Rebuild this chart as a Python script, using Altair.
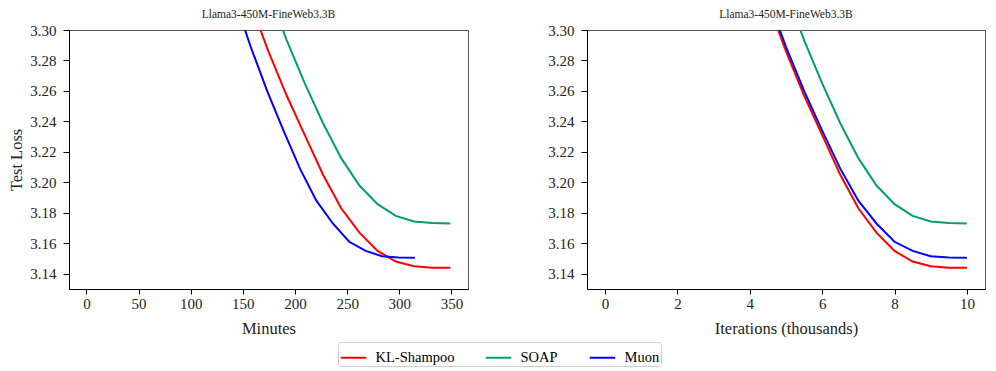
import altair as alt
import pandas as pd

optimizers = ["KL-Shampoo", "SOAP", "Muon"]
colors = ["#ff0000", "#009e73", "#0000ff"]

iters_kl = [4.5, 5.0, 5.5, 6.0, 6.5, 7.0, 7.5, 8.0, 8.5, 9.0, 9.5, 10.0]
minutes_kl = [157.1, 174.5, 192.0, 209.4, 226.9, 244.3, 261.8, 279.2, 296.7, 314.1, 331.6, 349.0]
loss_kl = [3.318, 3.286, 3.257, 3.231, 3.205, 3.183, 3.167, 3.155, 3.148, 3.145, 3.144, 3.144]

iters_soap = [5.0, 5.5, 6.0, 6.5, 7.0, 7.5, 8.0, 8.5, 9.0, 9.5, 10.0]
minutes_soap = [174.5, 192.0, 209.4, 226.9, 244.3, 261.8, 279.2, 296.7, 314.1, 331.6, 349.0]
loss_soap = [3.325, 3.2934, 3.265, 3.2388, 3.2159, 3.1979, 3.1857, 3.178, 3.1743, 3.1733, 3.173]

iters_muon = [4.5, 5.0, 5.5, 6.0, 6.5, 7.0, 7.5, 8.0, 8.5, 9.0, 9.5, 10.0]
minutes_muon = [141.8, 157.5, 173.3, 189.0, 204.8, 220.5, 236.3, 252.0, 267.8, 283.5, 299.3, 315.0]
loss_muon = [3.321, 3.289, 3.260, 3.234, 3.209, 3.188, 3.173, 3.161, 3.155, 3.1515, 3.1506, 3.1505]

y_ticks = [3.14, 3.16, 3.18, 3.20, 3.22, 3.24, 3.26, 3.28, 3.30]
minute_ticks = [0, 50, 100, 150, 200, 250, 300, 350]
iter_ticks = [0, 2, 4, 6, 8, 10]
panel_title = "Llama3-450M-FineWeb3.3B"

rows = []
for name, its, mins, ls in [
    ("KL-Shampoo", iters_kl, minutes_kl, loss_kl),
    ("SOAP", iters_soap, minutes_soap, loss_soap),
    ("Muon", iters_muon, minutes_muon, loss_muon),
]:
    for i, m, l in zip(its, mins, ls):
        rows.append({"optimizer": name, "iters": i, "minutes": m, "loss": l})
df = pd.DataFrame(rows)

FONT = "Liberation Serif"

color = alt.Color(
    "optimizer:N",
    scale=alt.Scale(domain=optimizers, range=colors),
    sort=optimizers,
    legend=alt.Legend(
        title=None,
        orient="none",
        direction="horizontal",
        legendX=269,
        legendY=312,
        symbolType="stroke",
        symbolSize=650,
        symbolStrokeWidth=2,
        labelFontSize=14.5,
        labelFont=FONT,
        labelColor="black",
        labelOffset=8,
        columnPadding=27,
        padding=1.5,
        strokeColor="#cccccc",
        fillColor="white",
        cornerRadius=3,
    ),
)

y_enc = alt.Y(
    "loss:Q",
    scale=alt.Scale(domain=[3.13, 3.30], nice=False, zero=False),
    axis=alt.Axis(values=y_ticks, format=".2f", title="Test Loss"),
)
y_enc2 = alt.Y(
    "loss:Q",
    scale=alt.Scale(domain=[3.13, 3.30], nice=False, zero=False),
    axis=alt.Axis(values=y_ticks, format=".2f"),
    title=None,
)

left = alt.Chart(df).mark_line(clip=True, strokeWidth=2).encode(
    x=alt.X(
        "minutes:Q",
        scale=alt.Scale(domain=[-16.7, 365.9], nice=False, zero=False),
        axis=alt.Axis(values=minute_ticks, format="d", title="Minutes"),
    ),
    y=y_enc,
    color=color,
    detail="optimizer:N",
).properties(width=399, height=259, title=panel_title)

right = alt.Chart(df).mark_line(clip=True, strokeWidth=2).encode(
    x=alt.X(
        "iters:Q",
        scale=alt.Scale(domain=[-0.5, 10.5], nice=False, zero=False),
        axis=alt.Axis(values=iter_ticks, format="d", title="Iterations (thousands)"),
    ),
    y=y_enc2,
    color=color,
    detail="optimizer:N",
).properties(width=398, height=259, title=panel_title)

chart = alt.hconcat(left, right, spacing=78).properties(
    padding={"left": 0, "top": 0, "right": 2, "bottom": 2}
).configure_view(
    stroke="#555555", strokeWidth=1
).configure_axis(
    grid=False,
    domainColor="black",
    domainWidth=1,
    tickColor="black",
    tickWidth=1,
    labelFont=FONT,
    labelFontSize=15,
    labelColor="#222222",
    titleFont=FONT,
    titleFontSize=16.5,
    titleFontWeight="normal",
    titleColor="#222222",
).configure_axisY(
    tickSize=6, labelPadding=7, titlePadding=5
).configure_axisX(
    tickSize=5, labelPadding=2, titlePadding=9
).configure_title(
    font=FONT, fontSize=11.5, fontWeight="normal", color="#222222", offset=3, anchor="middle"
)

chart.save("out.html", embed_options={"renderer": "svg", "actions": False})
